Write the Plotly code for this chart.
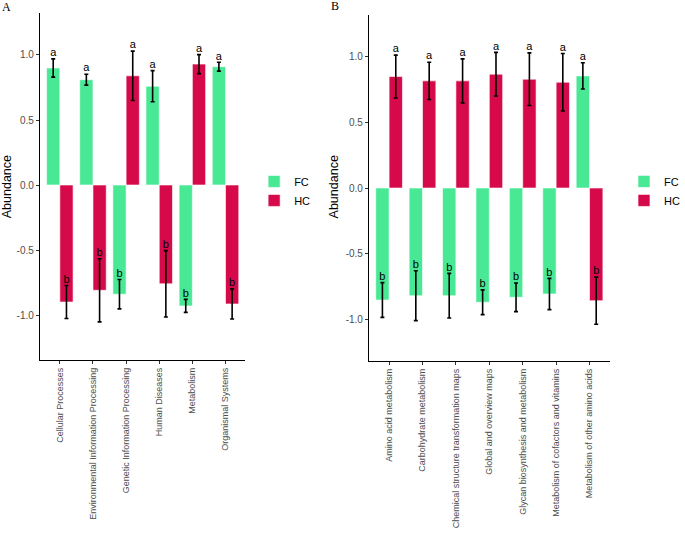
import plotly.graph_objects as go

# panel A: KEGG level 1
cats_a = ["Cellular Processes", "Environmental Information Processing",
          "Genetic Information Processing", "Human Diseases",
          "Metabolism", "Organismal Systems"]
fc_a = [0.90, 0.81, -0.84, 0.76, -0.93, 0.91]
fc_a_sd = [0.07, 0.042, 0.113, 0.12, 0.05, 0.034]
hc_a = [-0.90, -0.81, 0.84, -0.76, 0.93, -0.915]
hc_a_sd = [0.127, 0.243, 0.19, 0.255, 0.073, 0.116]
fc_a_lab = ["a", "a", "b", "a", "b", "a"]
hc_a_lab = ["b", "b", "a", "b", "a", "b"]

# panel B: KEGG level 2 (metabolism)
cats_b = ["Amino acid metabolism", "Carbohydrate metabolism",
          "Chemical structure transformation maps", "Global and overview maps",
          "Glycan biosynthesis and metabolism",
          "Metabolism of cofactors and vitamins",
          "Metabolism of other amino acids"]
fc_b = [-0.852, -0.819, -0.819, -0.869, -0.831, -0.806, 0.853]
fc_b_sd = [0.132, 0.19, 0.17, 0.094, 0.109, 0.119, 0.10]
hc_b = [0.848, 0.815, 0.815, 0.866, 0.828, 0.805, -0.857]
hc_b_sd = [0.163, 0.142, 0.167, 0.166, 0.20, 0.218, 0.179]
fc_b_lab = ["b", "b", "b", "b", "b", "b", "a"]
hc_b_lab = ["a", "a", "a", "a", "a", "a", "b"]

GREEN = "#48E895"
RED = "#D60A4A"
FONT = "Arial, Liberation Sans, sans-serif"
SERIF = "Times New Roman, Liberation Serif, serif"

fig = go.Figure()


def add_panel(cats, fc, fc_sd, hc, hc_sd, fc_lab, hc_lab, xa, ya, leg):
    idx = list(range(len(cats)))
    for name, vals, sd, lab, col, off in [("FC", fc, fc_sd, fc_lab, GREEN, -0.2),
                                          ("HC", hc, hc_sd, hc_lab, RED, 0.2)]:
        xs = [i + off for i in idx]
        fig.add_trace(go.Bar(
            x=xs, y=vals, width=0.4, name=name, marker_color=col,
            marker_line=dict(color="white", width=0.6),
            error_y=dict(type="data", array=sd, color="black", thickness=1.6, width=2),
            xaxis=xa, yaxis=ya, legend=leg))
        fig.add_trace(go.Scatter(
            x=xs, y=[v + s for v, s in zip(vals, sd)], mode="text", text=lab,
            textposition="top center", textfont=dict(size=11, color="black", family=FONT),
            showlegend=False, hoverinfo="skip", xaxis=xa, yaxis=ya))


add_panel(cats_a, fc_a, fc_a_sd, hc_a, hc_a_sd, fc_a_lab, hc_a_lab, "x", "y", "legend")
add_panel(cats_b, fc_b, fc_b_sd, hc_b, hc_b_sd, fc_b_lab, hc_b_lab, "x2", "y2", "legend2")

ytv = [-1.0, -0.5, 0.0, 0.5, 1.0]
ytt = ["-1.0", "-0.5", "0.0", "0.5", "1.0"]

common_x = dict(showline=True, linecolor="black", linewidth=1.2, ticks="outside",
                ticklen=3, tickcolor="#333333", tickangle=-90, showgrid=False,
                zeroline=False, automargin=False,
                tickfont=dict(size=9, color="#4d4d4d", family=FONT))
common_y = dict(showline=True, linecolor="black", linewidth=1.2, ticks="outside",
                ticklen=3, tickcolor="#333333", showgrid=False, zeroline=False,
                automargin=False, tickvals=ytv, ticktext=ytt,
                tickfont=dict(size=10, color="#4d4d4d", family=FONT))


def ytitle(x):
    # y-axis title as a rotated annotation, so it can sit close to the tick labels
    return dict(text="Abundance", x=x, y=0.656, xref="paper", yref="paper",
                showarrow=False, textangle=-90, xanchor="center", yanchor="middle",
                font=dict(size=12.5, color="black", family=FONT))


fig.update_layout(
    width=685, height=542,
    margin=dict(l=0, r=0, t=0, b=0),
    paper_bgcolor="white", plot_bgcolor="white",
    barmode="overlay",
    font=dict(family=FONT),
    xaxis=dict(domain=[0.0599, 0.3679], range=[-0.6, 5.6], anchor="y",
               tickvals=list(range(len(cats_a))), ticktext=cats_a, **common_x),
    yaxis=dict(domain=[0.3358, 0.976], range=[-1.346, 1.323], anchor="x", **common_y),
    xaxis2=dict(domain=[0.5533, 0.9139], range=[-0.6, 6.6], anchor="y2",
                tickvals=list(range(len(cats_b))), ticktext=cats_b, **common_x),
    yaxis2=dict(domain=[0.3339, 0.9723], range=[-1.316, 1.316], anchor="x2", **common_y),
    legend=dict(x=0.381, y=0.692, xanchor="left", yanchor="top",
                font=dict(size=11, color="black", family=FONT), tracegroupgap=0),
    legend2=dict(x=0.936, y=0.692, xanchor="left", yanchor="top",
                 font=dict(size=11, color="black", family=FONT), tracegroupgap=0),
    annotations=[
        ytitle(0.0117),
        ytitle(0.5007),
        dict(text="A", x=0.0, y=1.0, xref="paper", yref="paper", showarrow=False,
             xanchor="left", yanchor="top", xshift=0, yshift=2,
             font=dict(size=12, family=SERIF, color="black")),
        dict(text="B", x=0.4935, y=1.0, xref="paper", yref="paper", showarrow=False,
             xanchor="left", yanchor="top", yshift=3,
             font=dict(size=12, family=SERIF, color="black")),
    ],
)

# drop the browser's default 8px body margin so the figure sits at the window corner
fig.write_html("out.html", config={"displayModeBar": False},
               post_script="document.body.style.margin='0';")
